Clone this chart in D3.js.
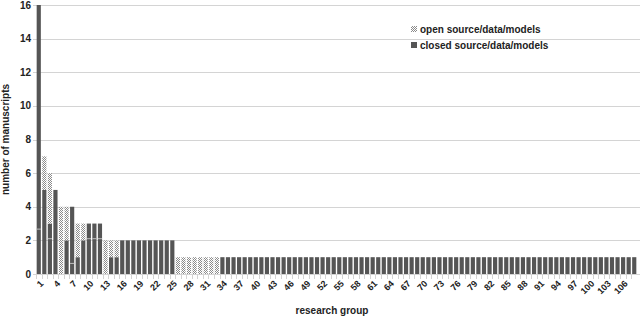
<!DOCTYPE html>
<html>
<head>
<meta charset="utf-8">
<script src="https://cdn.jsdelivr.net/npm/d3@7"></script>
<style>
  body { margin: 0; background: #fff; }
  text { font-family: "Liberation Sans", Arial, sans-serif; font-weight: bold; fill: #222; }
</style>
</head>
<body>
<div id="viewPanel"></div>
<script>
// Manuscripts per research group, split by openness
const groups = d3.range(1, 109);

const openCounts = [
  0, 2, 3, 0, 4, 2, 0, 2, 1, 0, 0, 0, 2, 1, 1, 0, 0, 0, 0, 0,
  0, 0, 0, 0, 0, 1, 1, 1, 1, 1, 1, 1, 1, 0, 0, 0, 0, 0, 0, 0,
  0, 0, 0, 0, 0, 0, 0, 0, 0, 0, 0, 0, 0, 0, 0, 0, 0, 0, 0, 0,
  0, 0, 0, 0, 0, 0, 0, 0, 0, 0, 0, 0, 0, 0, 0, 0, 0, 0, 0, 0,
  0, 0, 0, 0, 0, 0, 0, 0, 0, 0, 0, 0, 0, 0, 0, 0, 0, 0, 0, 0,
  0, 0, 0, 0, 0, 0, 0, 0
];

const closedCounts = [
  16, 5, 3, 5, 0, 2, 4, 1, 2, 3, 3, 3, 0, 1, 1, 2, 2, 2, 2, 2,
  2, 2, 2, 2, 2, 0, 0, 0, 0, 0, 0, 0, 0, 1, 1, 1, 1, 1, 1, 1,
  1, 1, 1, 1, 1, 1, 1, 1, 1, 1, 1, 1, 1, 1, 1, 1, 1, 1, 1, 1,
  1, 1, 1, 1, 1, 1, 1, 1, 1, 1, 1, 1, 1, 1, 1, 1, 1, 1, 1, 1,
  1, 1, 1, 1, 1, 1, 1, 1, 1, 1, 1, 1, 1, 1, 1, 1, 1, 1, 1, 1,
  1, 1, 1, 1, 1, 1, 1, 1
];

// faint seams inside some closed bars (shared manuscripts)
const seamGroups = [1, 3, 7, 10, 11, 12];
const seamValues = [2.67, 2.1, 0.63, 2.1, 2.1, 2.1];

const yTicks = [0, 2, 4, 6, 8, 10, 12, 14, 16];
const xLabelGroups = d3.range(1, 109, 3);
const legendLabels = ['open source/data/models', 'closed source/data/models'];

const width = 640;
const height = 316;
const darkColor = '#555555';
const gridColor = '#d4d4d4';

const x = d3.scaleBand()
  .domain(groups)
  .range([36, 637])
  .paddingInner(0.25)
  .paddingOuter(0.12);

const y = d3.scaleLinear()
  .domain([0, 16])
  .range([274, 5]);

const svg = d3.select('#viewPanel')
  .append('svg')
  .attr('width', width)
  .attr('height', height);

// checkered fill for the open series
const pat = svg.append('defs').append('pattern')
  .attr('id', 'checker')
  .attr('patternUnits', 'userSpaceOnUse')
  .attr('width', 2)
  .attr('height', 2);
pat.append('rect').attr('width', 2).attr('height', 2).attr('fill', '#ffffff');
pat.append('rect').attr('width', 1).attr('height', 1).attr('fill', '#8a8a8a');
pat.append('rect').attr('x', 1).attr('y', 1).attr('width', 1).attr('height', 1).attr('fill', '#8a8a8a');

// grid
svg.append('g')
  .selectAll('line')
  .data(yTicks)
  .join('line')
  .attr('x1', 33)
  .attr('x2', width)
  .attr('y1', d => Math.round(y(d)) + 0.5)
  .attr('y2', d => Math.round(y(d)) + 0.5)
  .attr('stroke', gridColor)
  .attr('stroke-width', 1);

// y tick labels
svg.append('g')
  .selectAll('text')
  .data(yTicks)
  .join('text')
  .attr('x', 31)
  .attr('y', d => y(d))
  .attr('dy', '0.35em')
  .attr('text-anchor', 'end')
  .attr('font-size', 10)
  .text(d => d);

// stacked bars
const table = groups.map((g, i) => ({ group: g, closed: closedCounts[i], open: openCounts[i] }));
const series = d3.stack().keys(['closed', 'open'])(table);

svg.append('g')
  .selectAll('g')
  .data(series)
  .join('g')
  .attr('fill', d => d.key === 'open' ? 'url(#checker)' : darkColor)
  .selectAll('rect')
  .data(d => d.filter(s => s[1] > s[0]))
  .join('rect')
  .attr('x', d => x(d.data.group))
  .attr('width', x.bandwidth())
  .attr('y', d => y(d[1]))
  .attr('height', d => y(d[0]) - y(d[1]));

// seams
svg.append('g')
  .selectAll('line')
  .data(seamGroups.map((g, i) => ({ group: g, v: seamValues[i] })))
  .join('line')
  .attr('x1', d => x(d.group))
  .attr('x2', d => x(d.group) + x.bandwidth())
  .attr('y1', d => y(d.v))
  .attr('y2', d => y(d.v))
  .attr('stroke', '#bdbdbd')
  .attr('stroke-width', 1);

// category ticks between bars
const step = x.step();
svg.append('g')
  .selectAll('line')
  .data(groups)
  .join('line')
  .attr('x1', d => Math.round(x(d) - step * 0.125) + 0.5)
  .attr('x2', d => Math.round(x(d) - step * 0.125) + 0.5)
  .attr('y1', 274)
  .attr('y2', 279)
  .attr('stroke', gridColor);

// x tick labels
svg.append('g')
  .selectAll('text')
  .data(xLabelGroups)
  .join('text')
  .attr('transform', d => `translate(${x(d) + x.bandwidth() / 2 + 3},${282}) rotate(-45)`)
  .attr('dy', '0.35em')
  .attr('text-anchor', 'end')
  .attr('font-size', 9)
  .text(d => d);

// axis titles
svg.append('text')
  .attr('transform', `translate(9,${y(8)}) rotate(-90)`)
  .attr('text-anchor', 'middle')
  .attr('font-size', 10)
  .text('number of manuscripts');

svg.append('text')
  .attr('x', 332)
  .attr('y', 314)
  .attr('text-anchor', 'middle')
  .attr('font-size', 10)
  .text('research group');

// legend
const legend = svg.append('g')
  .selectAll('g')
  .data(legendLabels)
  .join('g')
  .attr('transform', (d, i) => `translate(411,${29 + i * 16})`);

legend.append('rect')
  .attr('x', 0)
  .attr('y', -3)
  .attr('width', 6)
  .attr('height', 6)
  .attr('fill', (d, i) => i === 0 ? 'url(#checker)' : darkColor);

legend.append('text')
  .attr('x', 9)
  .attr('dy', '0.35em')
  .attr('font-size', 10)
  .text(d => d);
</script>
</body>
</html>
